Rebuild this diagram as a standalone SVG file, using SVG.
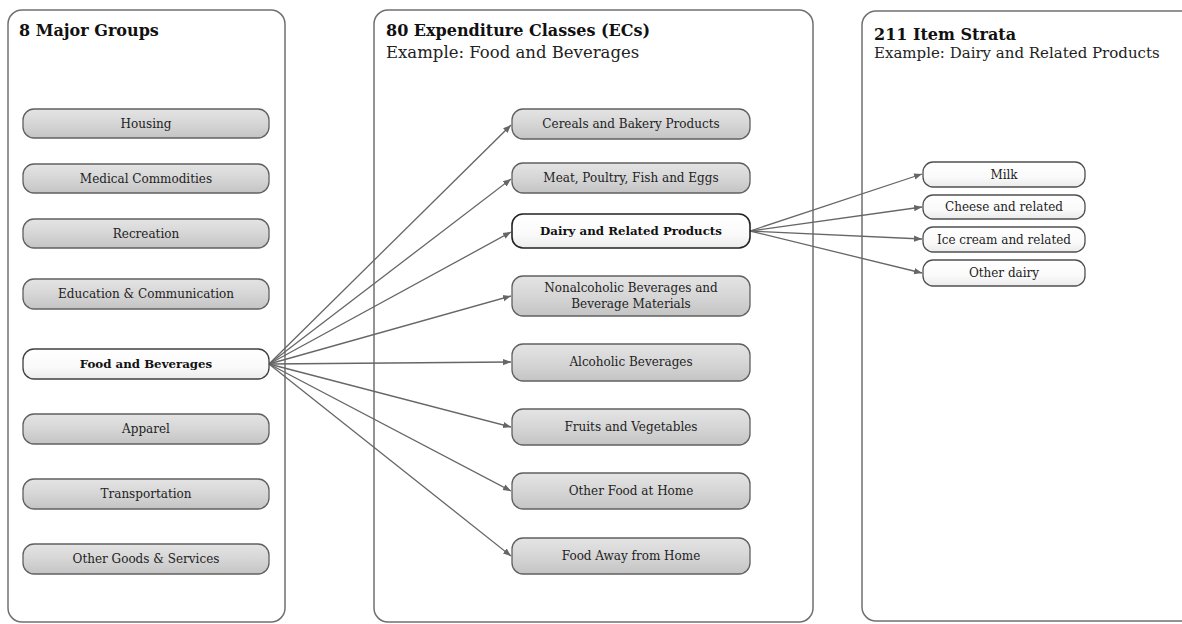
<svg xmlns="http://www.w3.org/2000/svg" width="1182" height="624" viewBox="0 0 1182 624">
<style>
.panel{fill:#fff;stroke:#707070;stroke-width:1.5}
.node{fill:url(#gg);stroke:#606060;stroke-width:1.3}
.sel{fill:url(#wg);stroke:#404040;stroke-width:1.3}
.sel2{fill:url(#wg);stroke:#222;stroke-width:1.6}
.leaf{fill:url(#wg);stroke:#505050;stroke-width:1.3}
.t{font-family:"DejaVu Serif","Liberation Serif",serif;font-size:12px;fill:#222;text-anchor:middle;dominant-baseline:central}
.b{font-weight:bold;fill:#111;font-size:11.8px}
.h{font-family:"DejaVu Serif","Liberation Serif",serif;font-size:16px;font-weight:bold;fill:#111}
.s{font-family:"DejaVu Serif","Liberation Serif",serif;font-size:16.5px;fill:#222}
.s3{font-size:15px}
.c{stroke:#666;stroke-width:1.3;fill:none;marker-end:url(#ar)}
</style>
<defs>
<linearGradient id="gg" x1="0" y1="0" x2="0" y2="1">
<stop offset="0" stop-color="#e4e4e4"/>
<stop offset="0.5" stop-color="#d6d6d6"/>
<stop offset="1" stop-color="#c4c4c4"/>
</linearGradient>
<linearGradient id="wg" x1="0" y1="0" x2="0" y2="1">
<stop offset="0" stop-color="#ffffff"/>
<stop offset="0.6" stop-color="#fafafa"/>
<stop offset="1" stop-color="#ebebeb"/>
</linearGradient>
<marker id="ar" viewBox="0 0 10 10" refX="10" refY="5" markerWidth="8" markerHeight="8" markerUnits="userSpaceOnUse" orient="auto">
<path d="M0,1 L10,5 L0,9 z" fill="#666"/>
</marker>
</defs>
<rect width="1182" height="624" fill="#fff"/>

<g id="panel-major">
<rect class="panel" x="8" y="10" width="277" height="612" rx="14"/>
<text class="h" x="19" y="36">8 Major Groups</text>
</g>
<g id="panel-ec">
<rect class="panel" x="374" y="10" width="439" height="612" rx="14"/>
<text class="h" x="386" y="36">80 Expenditure Classes (ECs)</text>
<text class="s" x="386" y="58">Example: Food and Beverages</text>
</g>
<g id="panel-strata">
<rect class="panel" x="862" y="11" width="340" height="610" rx="14"/>
<text class="h" x="874" y="40">211 Item Strata</text>
<text class="s s3" x="874" y="58">Example: Dairy and Related Products</text>
</g>

<g id="connectors">
<line class="c" x1="269" y1="364" x2="511" y2="125"/>
<line class="c" x1="269" y1="364" x2="511" y2="179"/>
<line class="c" x1="269" y1="364" x2="511" y2="232"/>
<line class="c" x1="269" y1="364" x2="511" y2="296"/>
<line class="c" x1="269" y1="364" x2="511" y2="362"/>
<line class="c" x1="269" y1="364" x2="511" y2="427"/>
<line class="c" x1="269" y1="364" x2="511" y2="491"/>
<line class="c" x1="269" y1="364" x2="511" y2="556"/>
<line class="c" x1="750" y1="231" x2="922" y2="174"/>
<line class="c" x1="750" y1="231" x2="922" y2="207"/>
<line class="c" x1="750" y1="231" x2="922" y2="239"/>
<line class="c" x1="750" y1="231" x2="922" y2="273"/>
</g>

<g id="n-housing"><rect class="node" x="23" y="109" width="246" height="29" rx="11"/><text class="t" x="146" y="124">Housing</text></g>
<g id="n-medical"><rect class="node" x="23" y="164" width="246" height="29" rx="11"/><text class="t" x="146" y="179">Medical Commodities</text></g>
<g id="n-recreation"><rect class="node" x="23" y="219" width="246" height="29" rx="11"/><text class="t" x="146" y="234">Recreation</text></g>
<g id="n-education"><rect class="node" x="23" y="279" width="246" height="30" rx="11"/><text class="t" x="146" y="294">Education &amp; Communication</text></g>
<g id="n-food"><rect class="sel" x="23" y="349" width="246" height="30" rx="11"/><text class="t b" x="146" y="364">Food and Beverages</text></g>
<g id="n-apparel"><rect class="node" x="23" y="414" width="246" height="30" rx="11"/><text class="t" x="146" y="429">Apparel</text></g>
<g id="n-transport"><rect class="node" x="23" y="479" width="246" height="30" rx="11"/><text class="t" x="146" y="494">Transportation</text></g>
<g id="n-other"><rect class="node" x="23" y="544" width="246" height="30" rx="11"/><text class="t" x="146" y="559">Other Goods &amp; Services</text></g>

<g id="n-cereals"><rect class="node" x="512" y="109" width="238" height="30" rx="11"/><text class="t" x="631" y="124">Cereals and Bakery Products</text></g>
<g id="n-meat"><rect class="node" x="512" y="163" width="238" height="30" rx="11"/><text class="t" x="631" y="178">Meat, Poultry, Fish and Eggs</text></g>
<g id="n-dairy"><rect class="sel2" x="512" y="214" width="238" height="34" rx="11"/><text class="t b" x="631" y="231">Dairy and Related Products</text></g>
<g id="n-nonalc"><rect class="node" x="512" y="276" width="238" height="40" rx="11"/><text class="t" x="631" y="288">Nonalcoholic Beverages and</text><text class="t" x="631" y="304">Beverage Materials</text></g>
<g id="n-alc"><rect class="node" x="512" y="344" width="238" height="37" rx="11"/><text class="t" x="631" y="362">Alcoholic Beverages</text></g>
<g id="n-fruits"><rect class="node" x="512" y="409" width="238" height="36" rx="11"/><text class="t" x="631" y="427">Fruits and Vegetables</text></g>
<g id="n-otherfood"><rect class="node" x="512" y="473" width="238" height="36" rx="11"/><text class="t" x="631" y="491">Other Food at Home</text></g>
<g id="n-away"><rect class="node" x="512" y="538" width="238" height="36" rx="11"/><text class="t" x="631" y="556">Food Away from Home</text></g>

<g id="n-milk"><rect class="leaf" x="923" y="162" width="162" height="25" rx="10"/><text class="t" x="1004" y="174.5">Milk</text></g>
<g id="n-cheese"><rect class="leaf" x="923" y="195" width="162" height="24" rx="10"/><text class="t" x="1004" y="207">Cheese and related</text></g>
<g id="n-icecream"><rect class="leaf" x="923" y="227" width="162" height="25" rx="10"/><text class="t" x="1004" y="239.5">Ice cream and related</text></g>
<g id="n-otherdairy"><rect class="leaf" x="923" y="260" width="162" height="26" rx="10"/><text class="t" x="1004" y="273">Other dairy</text></g>
</svg>
